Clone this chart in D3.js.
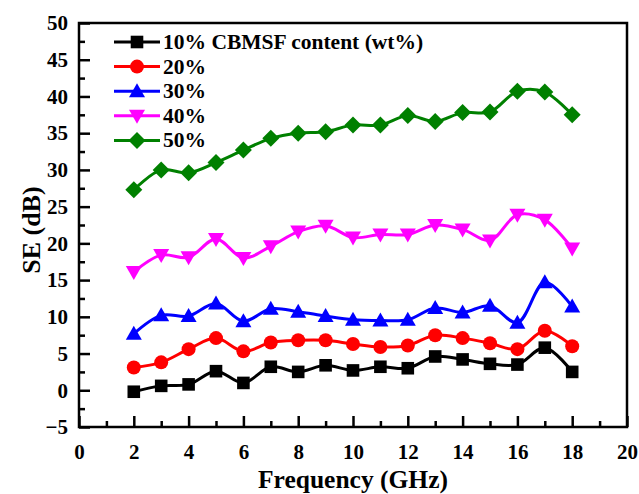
<!DOCTYPE html>
<html lang="en">
<head>
<meta charset="UTF-8">
<title>SE vs Frequency</title>
<style>
body { margin: 0; background: #fff; }
text { font-family: "Liberation Serif", "Times New Roman", serif; font-weight: bold; fill: #000; }
</style>
</head>
<body>
<svg id="main" width="639" height="494"></svg>
<script src="https://cdn.jsdelivr.net/npm/d3@7"></script>
<script>
var freq = [2, 3, 4, 5, 6, 7, 8, 9, 10, 11, 12, 13, 14, 15, 16, 17, 18];
var se10 = [-0.2, 0.6, 0.8, 2.6, 1.0, 3.2, 2.5, 3.4, 2.7, 3.2, 3.0, 4.6, 4.2, 3.6, 3.5, 5.8, 2.5];
var se20 = [3.1, 3.8, 5.6, 7.1, 5.3, 6.5, 6.8, 6.8, 6.3, 5.9, 6.1, 7.5, 7.1, 6.4, 5.6, 8.1, 6.0];
var se30 = [7.7, 10.2, 10.1, 11.8, 9.4, 11.1, 10.7, 10.1, 9.6, 9.5, 9.6, 11.2, 10.6, 11.5, 9.2, 14.7, 11.4];
var se40 = [16.1, 18.4, 18.1, 20.6, 18.0, 19.6, 21.6, 22.4, 20.8, 21.2, 21.2, 22.5, 21.9, 20.4, 23.9, 23.2, 19.3];
var se50 = [27.3, 30.0, 29.6, 31.0, 32.7, 34.3, 35.0, 35.2, 36.1, 36.1, 37.4, 36.6, 37.8, 37.9, 40.7, 40.6, 37.5];
var labels = ["10% CBMSF content (wt%)", "20%", "30%", "40%", "50%"];
var colors = ["#000000", "#ff0000", "#0000ff", "#ff00ff", "#008000"];
var shapes = ["square", "circle", "triangle", "triangleDown", "diamond"];
var xTicks = [0, 2, 4, 6, 8, 10, 12, 14, 16, 18, 20];
var yTicks = [-5, 0, 5, 10, 15, 20, 25, 30, 35, 40, 45, 50];

var allSeries = [se10, se20, se30, se40, se50];

var svg = d3.select("#main");
var pLeft = 79, pRight = 627, pTop = 23, pBottom = 427;

var x = d3.scaleLinear().domain([0, 20]).range([pLeft, pRight]);
var y = d3.scaleLinear().domain([-5, 50]).range([pBottom, pTop]);

// minor ticks
var xMinor = d3.range(1, 20, 2);
var yMinor = d3.range(-2.5, 50, 5);

var g = svg.append("g");

var xAxis = d3.axisBottom(x).tickValues(xTicks).tickSizeInner(-11).tickSizeOuter(0).tickPadding(18);
var yAxis = d3.axisLeft(y).tickValues(yTicks).tickSizeInner(-11).tickSizeOuter(0).tickPadding(22);

g.append("g").attr("transform", "translate(0," + pBottom + ")")
    .call(d3.axisBottom(x).tickValues(xMinor).tickSize(-6).tickFormat(""))
    .call(function(s) { s.select(".domain").remove(); s.selectAll("line").attr("stroke-width", 2.5); });
g.append("g").attr("transform", "translate(" + pLeft + ",0)")
    .call(d3.axisLeft(y).tickValues(yMinor).tickSize(-6).tickFormat(""))
    .call(function(s) { s.select(".domain").remove(); s.selectAll("line").attr("stroke-width", 2.5); });

var gx = g.append("g").attr("transform", "translate(0," + pBottom + ")").call(xAxis);
var gy = g.append("g").attr("transform", "translate(" + pLeft + ",0)").call(yAxis);
[gx, gy].forEach(function(a) {
    a.select(".domain").remove();
    a.selectAll("line").attr("stroke-width", 2.5);
    a.selectAll("text").attr("font-size", 21).attr("font-family", "Liberation Serif").attr("font-weight", "bold");
});
gy.selectAll("text").attr("text-anchor", "end").attr("dx", "11");
gx.selectAll("text").attr("dy", "0.65em");

// frame
svg.append("rect").attr("x", pLeft).attr("y", pTop)
    .attr("width", pRight - pLeft).attr("height", pBottom - pTop)
    .attr("fill", "none").attr("stroke", "#000").attr("stroke-width", 2.5);

// series
var line = d3.line().x(function(d) { return x(d[0]); }).y(function(d) { return y(d[1]); })
    .curve(d3.curveCatmullRom.alpha(0.5));

function marker(sel, shape, color, cx, cy) {
    if (shape == "circle") {
        sel.append("circle").attr("cx", cx).attr("cy", cy).attr("r", 7).attr("fill", color);
    } else {
        var p;
        if (shape == "square") p = [[-6.3, -6.3], [6.3, -6.3], [6.3, 6.3], [-6.3, 6.3]];
        if (shape == "triangle") p = [[0, -8], [8, 6], [-8, 6]];
        if (shape == "triangleDown") p = [[0, 8], [8, -6], [-8, -6]];
        if (shape == "diamond") p = [[0, -8.5], [8.5, 0], [0, 8.5], [-8.5, 0]];
        sel.append("polygon")
            .attr("points", p.map(function(q) { return (cx + q[0]) + "," + (cy + q[1]); }).join(" "))
            .attr("fill", color);
    }
}

allSeries.forEach(function(vals, i) {
    var pts = freq.map(function(f, j) { return [f, vals[j]]; });
    var sg = svg.append("g");
    sg.append("path").attr("d", line(pts)).attr("fill", "none")
        .attr("stroke", colors[i]).attr("stroke-width", 3);
    pts.forEach(function(d) { marker(sg, shapes[i], colors[i], x(d[0]), y(d[1])); });
});

// legend
var lg = svg.append("g");
labels.forEach(function(lab, i) {
    var ly = 42 + i * 24.6;
    lg.append("line").attr("x1", 114).attr("x2", 160).attr("y1", ly).attr("y2", ly)
        .attr("stroke", colors[i]).attr("stroke-width", 3);
    marker(lg, shapes[i], colors[i], 137, ly);
    lg.append("text").attr("x", 163).attr("y", ly + 7).attr("font-size", 21.5).text(lab);
});

// axis titles
svg.append("text").attr("x", 353).attr("y", 488)
    .attr("text-anchor", "middle").attr("font-size", 25.5).text("Frequency (GHz)");
svg.append("text").attr("transform", "translate(40," + 230 + ") rotate(-90)")
    .attr("text-anchor", "middle").attr("font-size", 26).text("SE (dB)");
</script>
</body>
</html>
